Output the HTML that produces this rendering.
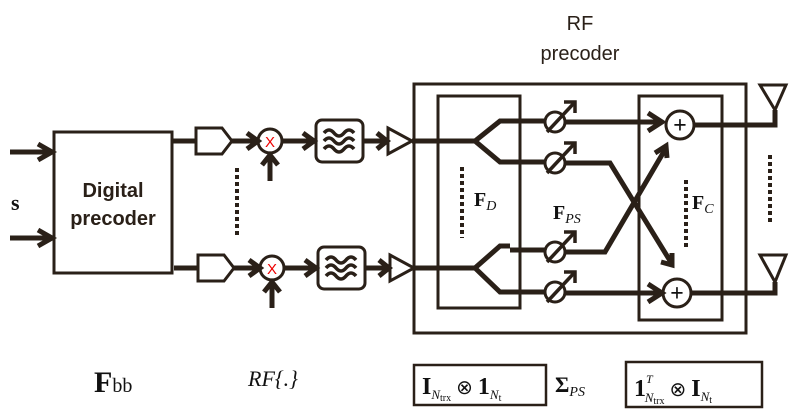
<!DOCTYPE html>
<html><head><meta charset="utf-8"><style>body{margin:0;background:#fff}svg{display:block}</style></head><body>
<svg width="792" height="418" viewBox="0 0 792 418" xmlns="http://www.w3.org/2000/svg">
<g stroke="#2a2018" fill="none" stroke-width="3">
<g stroke-width="5">
<line x1="10" y1="152" x2="52" y2="152"/><polyline points="38,144 52,152 38,160"/>
<line x1="10" y1="238" x2="52" y2="238"/><polyline points="38,230 52,238 38,246"/>
</g>
<rect x="54" y="132" width="118" height="141"/>
<g id="r1">
<line x1="172" y1="141" x2="196" y2="141" stroke-width="5"/>
<polygon points="196,128 222,128 232,141 222,154 196,154"/>
<line x1="232" y1="141" x2="258" y2="141" stroke-width="5"/><polyline points="247,133 258,141 247,149" stroke-width="5"/>
<circle cx="270" cy="141" r="12"/>
<line x1="282" y1="141" x2="314" y2="141" stroke-width="5"/><polyline points="303,133 314,141 303,149" stroke-width="5"/>
<rect x="316" y="120" width="47" height="42" rx="6"/>
<g stroke-width="3.5"><path d="M324,133 q5,-6 10,0 t10,0 t10,0"/><path d="M324,141 q5,-6 10,0 t10,0 t10,0"/><path d="M324,149 q5,-6 10,0 t10,0 t10,0"/></g>
<line x1="363" y1="141" x2="387" y2="141" stroke-width="5"/><polyline points="377,133 387,141 377,149" stroke-width="5"/>
<polygon points="388,128 412,141 388,154"/>
<line x1="270" y1="181" x2="270" y2="155" stroke-width="5"/><polyline points="262,165 270,155 278,165" stroke-width="5"/>
</g>
<use href="#r1" transform="translate(2,127)"/>
<line x1="412" y1="141" x2="475" y2="141" stroke-width="5"/>
<line x1="414" y1="268" x2="475" y2="268" stroke-width="5"/>
<rect x="414" y="84" width="332" height="249" stroke-width="3"/>
<rect x="438" y="96" width="82" height="212"/>
<rect x="639" y="96" width="83" height="224"/>
<g stroke-width="5">
<polyline points="510,121 500,121 475,141 500,162 510,162"/>
<polyline points="510,246 500,246 475,268 500,292 510,292"/>
<line x1="510" y1="121" x2="545" y2="121"/><line x1="510" y1="162" x2="545" y2="162"/>
<line x1="510" y1="250" x2="545" y2="250"/><line x1="510" y1="292" x2="545" y2="292"/>
<line x1="565" y1="122" x2="660" y2="122"/><polyline points="648,113 662,122 648,131"/>
<polyline points="565,163 610,163 672,264"/><polyline points="661,262 672,265 672,253"/>
<polyline points="565,252 605,252 666,148"/><polyline points="655,153 666,146 667,158"/>
<line x1="565" y1="293" x2="660" y2="293"/><polyline points="648,284 662,293 648,302"/>
<polyline points="694,125 775,125 775,110"/>
<polyline points="690,293 775,293 775,282"/>
</g>
<g stroke-width="3">
<circle cx="555" cy="122" r="10"/><circle cx="555" cy="163" r="10"/><circle cx="555" cy="252" r="10"/><circle cx="555" cy="292" r="10"/>
</g>
<g stroke-width="3.5">
<line x1="547" y1="132" x2="575" y2="102"/><polyline points="564,102 575,102 575,113"/>
<line x1="547" y1="173" x2="575" y2="143"/><polyline points="564,143 575,143 575,154"/>
<line x1="547" y1="262" x2="575" y2="232"/><polyline points="564,232 575,232 575,243"/>
<line x1="547" y1="302" x2="575" y2="272"/><polyline points="564,272 575,272 575,283"/>
</g>
<circle cx="680" cy="125" r="14" stroke-width="3"/><circle cx="677" cy="293" r="14" stroke-width="3"/>
<polygon points="760,85 786,85 775,110"/><polygon points="760,255 786,255 775,282"/>
<g stroke-width="4" stroke-dasharray="4,3">
<line x1="237" y1="168" x2="237" y2="238"/>
<line x1="462" y1="167" x2="462" y2="238"/>
<line x1="686" y1="180" x2="686" y2="250"/>
<line x1="770" y1="155" x2="770" y2="225"/>
</g>
<rect x="414" y="365" width="132" height="40" stroke-width="2.5"/>
<rect x="626" y="362" width="136" height="45" stroke-width="2.5"/>
</g>
<g font-family="Liberation Sans, sans-serif" fill="#2a2018">
<text x="580" y="30" font-size="20" text-anchor="middle">RF</text>
<text x="580" y="60" font-size="20" text-anchor="middle">precoder</text>
<text x="113" y="197" font-size="20" text-anchor="middle" font-weight="bold">Digital</text>
<text x="113" y="225" font-size="20" text-anchor="middle" font-weight="bold">precoder</text>
</g>
<g font-family="Liberation Sans, sans-serif" fill="#e00" font-size="15" text-anchor="middle">
<text x="270" y="147">X</text>
<text x="272" y="274">X</text>
</g>
<g font-family="Liberation Serif, serif" fill="#111">
<text x="11" y="210" font-size="22" font-weight="bold">s</text>
<text x="474" y="206" font-size="20" font-weight="bold">F<tspan font-size="14" font-style="italic" font-weight="normal" dy="4">D</tspan></text>
<text x="553" y="219" font-size="20" font-weight="bold">F<tspan font-size="14" font-style="italic" font-weight="normal" dy="4">PS</tspan></text>
<text x="692" y="209" font-size="20" font-weight="bold">F<tspan font-size="14" font-style="italic" font-weight="normal" dy="4">C</tspan></text>
<text x="680" y="133" font-size="24" font-weight="bold" text-anchor="middle">+</text>
<text x="677" y="301" font-size="24" font-weight="bold" text-anchor="middle">+</text>
<text x="94" y="392" font-size="30" font-weight="bold">F<tspan font-size="20" font-weight="normal">bb</tspan></text>
<text x="248" y="386" font-size="22" font-style="italic">RF{.}</text>
<text x="422" y="394" font-size="24" font-weight="bold">I<tspan font-size="13" font-style="italic" font-weight="normal" dy="5">N</tspan><tspan font-size="10" font-weight="normal" dy="2">trx</tspan><tspan font-size="20" font-weight="normal" dy="-7"> ⊗ </tspan><tspan>1</tspan><tspan font-size="13" font-style="italic" font-weight="normal" dy="5">N</tspan><tspan font-size="10" font-weight="normal" dy="2">t</tspan></text>
<text x="555" y="392" font-size="22" font-weight="bold">Σ<tspan font-size="14" font-style="italic" font-weight="normal" dy="4">PS</tspan></text>
<text x="634" y="396" font-size="24" font-weight="bold">1<tspan font-size="12" font-style="italic" font-weight="normal" dy="-13">T</tspan><tspan font-size="13" font-style="italic" font-weight="normal" dx="-8" dy="19">N</tspan><tspan font-size="10" font-weight="normal" dy="2">trx</tspan><tspan font-size="20" font-weight="normal" dy="-8"> ⊗ </tspan><tspan>I</tspan><tspan font-size="13" font-style="italic" font-weight="normal" dy="5">N</tspan><tspan font-size="10" font-weight="normal" dy="2">t</tspan></text>
</g>
</svg>
</body></html>
